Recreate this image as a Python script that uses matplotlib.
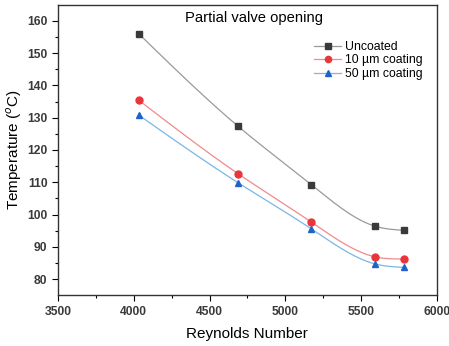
import numpy as np
import matplotlib
matplotlib.use("Agg")
from matplotlib import pyplot as plt

plt.rcParams['font.family'] = ['Liberation Sans', 'DejaVu Sans']

reynolds = [4034, 4690, 5170, 5590, 5782]
uncoated = [156.0, 127.3, 109.3, 96.4, 95.1]
coat10 = [135.4, 112.6, 97.7, 86.9, 86.2]
coat50 = [130.8, 109.8, 95.6, 84.7, 83.6]

series = [
  ("Uncoated", uncoated, "s", "#3a3a3a", "#9a9a9a"),
  ("10 \u00b5m coating", coat10, "o", "#e8363b", "#f08a8c"),
  ("50 \u00b5m coating", coat50, "^", "#1e63c9", "#7ab6e6"),
]


def naturalSpline(x, y, n=200):
  # natural cubic spline through the points, for the smooth connecting line
  x = np.asarray(x, float)
  y = np.asarray(y, float)
  k = len(x)
  h = np.diff(x)
  A = np.zeros((k, k))
  b = np.zeros(k)
  A[0, 0] = 1
  A[-1, -1] = 1
  for i in range(1, k - 1):
    A[i, i - 1] = h[i - 1]
    A[i, i] = 2 * (h[i - 1] + h[i])
    A[i, i + 1] = h[i]
    b[i] = 6 * ((y[i + 1] - y[i]) / h[i] - (y[i] - y[i - 1]) / h[i - 1])
  m = np.linalg.solve(A, b)
  xs = np.linspace(x[0], x[-1], n)
  idx = np.clip(np.searchsorted(x, xs) - 1, 0, k - 2)
  t0 = x[idx]
  t1 = x[idx + 1]
  hh = t1 - t0
  ys = (m[idx] * (t1 - xs) ** 3 / (6 * hh) + m[idx + 1] * (xs - t0) ** 3 / (6 * hh)
        + (y[idx] / hh - m[idx] * hh / 6) * (t1 - xs)
        + (y[idx + 1] / hh - m[idx + 1] * hh / 6) * (xs - t0))
  return xs, ys


fig = plt.figure(figsize=(4.49, 3.46), dpi=100)
ax = fig.add_axes([0.129, 0.147, 0.844, 0.839])

for name, vals, mk, mc, lc in series:
  xs, ys = naturalSpline(reynolds, vals)
  ax.plot(xs, ys, color=lc, lw=0.9, zorder=2)
  ax.plot(reynolds, vals, linestyle='none', marker=mk, markersize=5,
          color=mc, zorder=3)
  # legend handle: line plus marker
  ax.plot([], [], color=lc, lw=0.9, marker=mk, markersize=4.5,
          markerfacecolor=mc, markeredgecolor=mc, label=name)

ax.set_xlim(3500, 6000)
ax.set_ylim(75, 165)
ax.set_xticks(np.arange(3500, 6001, 500))
ax.set_xticks(np.arange(3750, 6000, 500), minor=True)
ax.set_yticks(np.arange(80, 161, 10))
ax.set_yticks(np.arange(85, 165, 10), minor=True)
ax.tick_params(which='major', direction='out', length=4, width=0.8, labelsize=8.7)
ax.tick_params(which='minor', direction='out', length=2.5, width=0.8)
for lab in ax.get_xticklabels() + ax.get_yticklabels():
  lab.set_fontweight('bold')
  lab.set_color('#3a3a3a')
for s in ax.spines.values():
  s.set_linewidth(1.0)
  s.set_color('#333333')

ax.set_xlabel("Reynolds Number", fontsize=11, labelpad=7)
ax.set_ylabel("Temperature ($^{o}$C)", fontsize=11, labelpad=2)
ax.text(0.517, 0.955, "Partial valve opening", transform=ax.transAxes,
        ha='center', va='center', fontsize=10.6)

leg = ax.legend(loc='upper right', bbox_to_anchor=(0.985, 0.905), frameon=False,
                fontsize=8.8, handlelength=2.2, handletextpad=0.3,
                labelspacing=0.12, borderpad=0.2)

fig.savefig("out.png", dpi=100)
